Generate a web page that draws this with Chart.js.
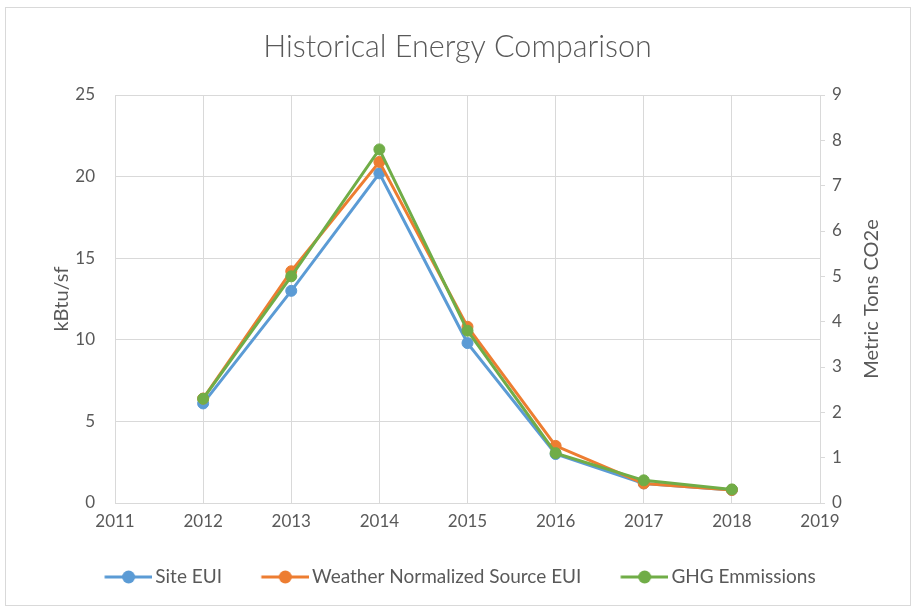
<!DOCTYPE html>
<html>
<head>
<meta charset="utf-8">
<script src="https://cdn.jsdelivr.net/npm/chart.js@4"></script>
<style>
  html, body { margin: 0; padding: 0; background: #fff; }
  #wrap { position: absolute; left: 0; top: 0; width: 915px; height: 610px; }
</style>
</head>
<body>
<div id="wrap"><canvas id="chart"></canvas></div>
<script>
const years = [2012, 2013, 2014, 2015, 2016, 2017, 2018];
const siteEui = [6.1, 13.0, 20.2, 9.8, 3.0, 1.2, 0.8];
const sourceEui = [6.4, 14.2, 20.9, 10.8, 3.5, 1.2, 0.8];
const ghgEmissions = [2.3, 5.0, 7.8, 3.8, 1.1, 0.5, 0.3];

const seriesNames = ["Site EUI", "Weather Normalized Source EUI", "GHG Emmissions"];
const colors = ["#5B9BD5", "#ED7D31", "#70AD47"];

const FONT = "Lato, 'Open Sans', sans-serif";
const TEXT = "#595959";
const GRID = "#d9d9d9";

// legend icon: short line with a dot, shifted right inside a wider canvas
// so the gap before the text stays small
function makeIcon(color) {
  const lead = 11.5;
  const c = document.createElement("canvas");
  c.width = 48 + lead; c.height = 14;
  const g = c.getContext("2d");
  g.strokeStyle = color;
  g.lineWidth = 3;
  g.beginPath(); g.moveTo(lead, 7); g.lineTo(lead + 48, 7); g.stroke();
  g.fillStyle = color;
  g.beginPath(); g.arc(lead + 24, 7, 6.5, 0, Math.PI * 2); g.fill();
  return c;
}
const icons = colors.map(makeIcon);

function toPoints(arr) {
  return years.map((y, i) => ({ x: y, y: arr[i] }));
}

function lineSet(label, data, color, axis, order) {
  return {
    label: label,
    data: toPoints(data),
    yAxisID: axis,
    borderColor: color,
    backgroundColor: color,
    borderWidth: 3,
    pointRadius: 5.5,
    pointBorderWidth: 1,
    pointBorderColor: color,
    pointBackgroundColor: color,
    tension: 0,
    order: order,
  };
}

const frame = {
  id: "frame",
  beforeDraw(chart) {
    const c = chart.ctx;
    c.save();
    c.fillStyle = "#fff";
    c.fillRect(0, 0, chart.width, chart.height);
    c.strokeStyle = GRID;
    c.lineWidth = 1;
    c.strokeRect(5.5, 7.5, 905, 598);
    c.restore();
  },
  afterDraw(chart) {
    // right axis title reads bottom-to-top like the left one
    const c = chart.ctx;
    const area = chart.chartArea;
    c.save();
    c.translate(872, (area.top + area.bottom) / 2);
    c.rotate(-Math.PI / 2);
    c.fillStyle = TEXT;
    c.font = "20px " + FONT;
    c.textAlign = "center";
    c.textBaseline = "middle";
    c.fillText("Metric Tons CO2e", 0, 0);
    c.restore();
  }
};

const ctx = document.getElementById("chart").getContext("2d");
const chart = new Chart(ctx, {
  type: "line",
  data: {
    datasets: [
      lineSet(seriesNames[0], siteEui, colors[0], "y", 3),
      lineSet(seriesNames[1], sourceEui, colors[1], "y", 2),
      lineSet(seriesNames[2], ghgEmissions, colors[2], "y1", 1),
    ]
  },
  options: {
    responsive: true,
    maintainAspectRatio: false,
    animation: false,
    layout: { padding: { top: 0, right: 0, bottom: 13.5, left: 0 } },
    plugins: {
      tooltip: { enabled: false },
      title: {
        display: true,
        text: "Historical Energy Comparison",
        color: TEXT,
        font: { family: FONT, size: 30.5, weight: "300" },
        padding: { top: 29, bottom: 29.4 },
      },
      legend: {
        position: "bottom",
        labels: {
          color: TEXT,
          font: { family: FONT, size: 19 },
          padding: 34,
          usePointStyle: true,
          pointStyleWidth: 46.5,
          boxHeight: 14,
          sort: (a, b) => a.datasetIndex - b.datasetIndex,
          generateLabels(chart) {
            const items = Chart.defaults.plugins.legend.labels.generateLabels(chart);
            items.forEach(it => { it.pointStyle = icons[it.datasetIndex]; });
            return items;
          }
        }
      }
    },
    scales: {
      x: {
        type: "linear",
        min: 2011,
        max: 2019,
        ticks: {
          stepSize: 1,
          color: TEXT,
          font: { family: FONT, size: 17 },
          padding: 8,
          callback: v => String(v),
        },
        grid: { color: GRID, drawTicks: false },
        border: { color: GRID },
        afterFit(scale) { scale.height = 30.5; },
      },
      y: {
        position: "left",
        min: 0,
        max: 25,
        ticks: {
          stepSize: 5,
          color: TEXT,
          font: { family: FONT, size: 17 },
          padding: 20,
        },
        grid: { color: GRID, drawTicks: false },
        border: { color: GRID },
        title: {
          display: true,
          text: "kBtu/sf",
          color: TEXT,
          font: { family: FONT, size: 20 },
          padding: { top: 50, bottom: 0 },
        },
        afterFit(scale) { scale.width = 115; },
      },
      y1: {
        position: "right",
        min: 0,
        max: 9,
        ticks: {
          stepSize: 1,
          color: TEXT,
          font: { family: FONT, size: 17 },
          padding: 7,
        },
        grid: { drawOnChartArea: false, color: GRID, tickLength: 5 },
        border: { color: GRID },
        afterFit(scale) { scale.width = 95; },
      }
    }
  },
  plugins: [frame]
});
</script>
</body>
</html>
